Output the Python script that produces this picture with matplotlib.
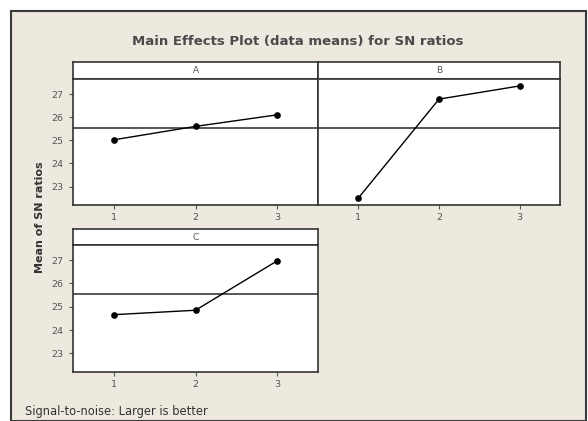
import matplotlib
matplotlib.use("Agg")
import matplotlib.pyplot as plt
from matplotlib.patches import Rectangle

# Data
levels = [1, 2, 3]
factors = ["A", "B", "C"]
sn_A = [25.02, 25.60, 26.10]
sn_B = [22.50, 26.78, 27.35]
sn_C = [24.66, 24.85, 26.97]
grand_mean = 25.53
yticks = [23, 24, 25, 26, 27]
title = "Main Effects Plot (data means) for SN ratios"
ylabel = "Mean of SN ratios"
footnote = "Signal-to-noise: Larger is better"

W, H = 588, 421
fig = plt.figure(figsize=(W / 100, H / 100), dpi=100)
fig.patch.set_facecolor("white")

def fx(x):
    return x / W

def fy(y):
    return 1 - y / H

# beige frame
fig.patches.append(Rectangle((fx(11), fy(421)), fx(586) - fx(11), fy(11) - fy(421),
                             transform=fig.transFigure, facecolor="#ede9df",
                             edgecolor="#3a3a3a", linewidth=1.5, zorder=-10))

cond = ["DejaVu Sans"]
fig.text(fx(298), fy(41), title, ha="center", va="center", fontsize=9.5,
         fontweight="bold", color="#4a4a4a", family=cond)

def panel(x0, x1, ytop, ystrip, ybot, vals, name, show_y):
    # strip
    sax = fig.add_axes([fx(x0), fy(ystrip), fx(x1) - fx(x0), fy(ytop) - fy(ystrip)])
    sax.set_facecolor("white")
    sax.set_xticks([]); sax.set_yticks([])
    for s in sax.spines.values():
        s.set_color("#333333"); s.set_linewidth(1.2)
    sax.text(0.5, 0.5, name, ha="center", va="center", fontsize=6.5,
             color="#555555", transform=sax.transAxes, family=cond)
    ax = fig.add_axes([fx(x0), fy(ybot), fx(x1) - fx(x0), fy(ystrip) - fy(ybot)])
    ax.set_facecolor("white")
    ax.set_xlim(0.5, 3.5)
    ax.set_ylim(22.2, 27.65)
    ax.axhline(grand_mean, color="#3a3a3a", linewidth=1.2)
    ax.plot(levels, vals, color="black", linewidth=1.0, marker="o",
            markersize=3.8)
    ax.set_xticks(levels)
    ax.set_xticklabels([str(l) for l in levels], fontsize=6.8, color="#555555", family=cond)
    ax.tick_params(axis="x", length=3, width=0.8, color="#555555", pad=3)
    if show_y:
        ax.set_yticks(yticks)
        ax.set_yticklabels([str(t) for t in yticks], fontsize=6.8, color="#555555", family=cond)
        ax.tick_params(axis="y", length=3, width=0.8, color="#555555", pad=4)
    else:
        ax.set_yticks([])
    for s in ax.spines.values():
        s.set_color("#333333"); s.set_linewidth(1.2)
    return ax

panel(73, 318, 62, 79, 205, sn_A, factors[0], True)
panel(318, 560, 62, 79, 205, sn_B, factors[1], False)
panel(73, 318, 229, 245, 372, sn_C, factors[2], True)

fig.text(fx(40), fy(217), ylabel, rotation=90, ha="center", va="center",
         fontsize=8, fontweight="bold", color="#333333", family=cond)
fig.text(fx(25), fy(411), footnote, ha="left", va="center", fontsize=8.3,
         color="#333333", family=cond)

fig.savefig("out.png", dpi=100, facecolor="white")
